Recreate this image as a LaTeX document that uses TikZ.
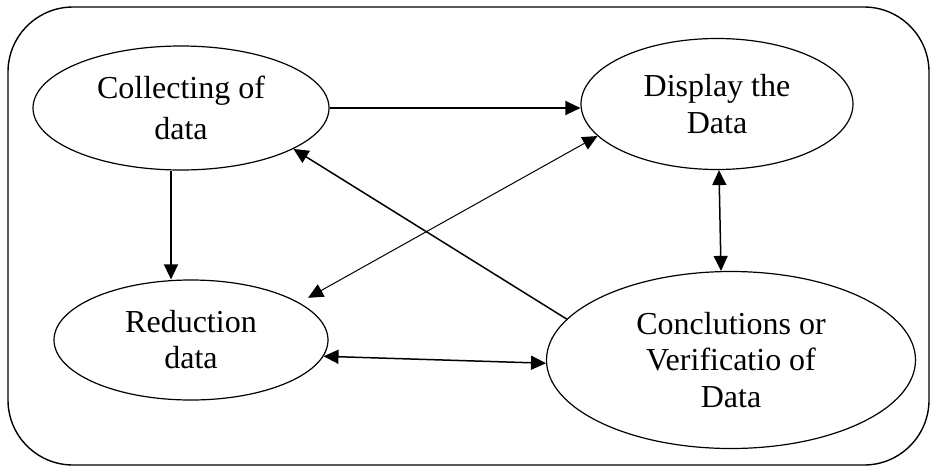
\documentclass[tikz,border=0pt]{standalone}
\usepackage{fontspec}
\setmainfont{Liberation Serif}
\usetikzlibrary{arrows.meta,shapes.geometric}
\begin{document}
\begin{tikzpicture}[x=1pt,y=-1pt,
  oval/.style={draw, ellipse, line width=1.2pt, inner sep=0pt, align=center},
  tip/.tip={Triangle[length=15pt,width=14pt]},
  arr/.style={line width=1.5pt, -tip},
  dbl/.style={line width=1.5pt, tip-tip},
  thindbl/.style={line width=1pt, tip-tip},
  frame/.style={line width=1.4pt, rounded corners=65pt}]
\useasboundingbox (0,0) rectangle (931,466);
\draw[frame] (8,7) rectangle (929,465);
\node[oval, minimum width=296pt, minimum height=124pt, font=\fontsize{32}{41.5}\selectfont] (e1) at (181,108) {Collecting of\\data};
\node[oval, minimum width=272pt, minimum height=131pt, font=\fontsize{32}{37}\selectfont] (e2) at (717,104) {Display the\\Data};
\node[oval, minimum width=274pt, minimum height=120pt, font=\fontsize{32}{36}\selectfont] (e3) at (191,340) {Reduction\\data};
\node[oval, minimum width=369pt, minimum height=177pt, font=\fontsize{32}{36.5}\selectfont] (e4) at (731,360) {Conclutions or\\Verificatio of\\Data};
\draw[arr] (e1.east) -- (e2.west |- e1.east);
\draw[arr] ([xshift=-10pt]e1.south) -- ([xshift=-20pt]e3.north);
\draw[arr] (e4.166) -- (e1.-20);
\draw[thindbl, shorten >=10pt] (e2.195) -- (e3.19);
\draw[dbl] ([xshift=2pt]e2.south) -- ([xshift=-10pt]e4.north);
\draw[dbl] (e3.-7) -- (e4.181);
\end{tikzpicture}
\end{document}
